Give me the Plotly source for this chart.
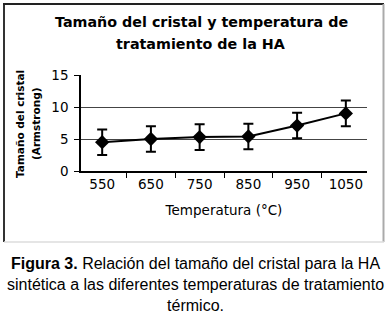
import plotly.graph_objects as go

temperaturas = ["550", "650", "750", "850", "950", "1050"]
tamano = [4.5, 5.0, 5.3, 5.4, 7.1, 9.0]
error = [2.0, 2.0, 2.0, 2.0, 2.0, 2.0]
y_ticks = [0, 5, 10, 15]

W, H = 390, 317
L, R, T, B = 81, 23, 75, 146
PW, PH = W - L - R, H - T - B

def px(x):
    return (x - L) / PW

def py(y):
    return (H - B - y) / PH

fig = go.Figure()
fig.add_trace(go.Scatter(
    x=temperaturas, y=tamano, mode="lines+markers",
    line=dict(color="black", width=2),
    marker=dict(symbol="diamond", size=11, color="black"),
    error_y=dict(type="data", array=error, visible=True, color="black", thickness=2, width=5),
    showlegend=False,
))

DV = "DejaVu Sans, Verdana, sans-serif"
fig.update_layout(
    width=W, height=H,
    margin=dict(l=L, r=R, t=T, b=B),
    paper_bgcolor="white", plot_bgcolor="white",
    font=dict(family=DV, color="black"),
    xaxis=dict(
        type="category", tickson="boundaries", ticks="outside", ticklen=5,
        tickcolor="black", showline=True, linecolor="black", linewidth=1.5,
        showgrid=False, tickfont=dict(size=13.5, family=DV),
        title=dict(text="Temperatura (°C)", font=dict(size=13.5, family=DV), standoff=15),
    ),
    yaxis=dict(
        range=[0, 15], tickvals=y_ticks, ticks="outside", ticklen=5, tickcolor="black",
        showline=True, linecolor="black", linewidth=1.5,
        showgrid=True, gridcolor="#444", gridwidth=1.2, zeroline=False,
        tickfont=dict(size=13.5, family=DV), ticklabelstandoff=3,
    ),
)

ann = [
    dict(text="<b>Tamaño del cristal y temperatura de</b>", x=px(201), y=py(22)),
    dict(text="<b>tratamiento de la HA</b>", x=px(200), y=py(44)),
]
for a in ann:
    fig.add_annotation(xref="paper", yref="paper", xanchor="center", yanchor="middle",
                       showarrow=False, font=dict(size=14.3, family=DV), **a)

fig.add_annotation(text="<b>Tamaño del cristal</b>", x=px(20), y=py(124), textangle=-90,
                   xref="paper", yref="paper", showarrow=False, xanchor="center", yanchor="middle",
                   font=dict(size=10.5, family=DV))
fig.add_annotation(text="<b>(Armstrong)</b>", x=px(36), y=py(124), textangle=-90,
                   xref="paper", yref="paper", showarrow=False, xanchor="center", yanchor="middle",
                   font=dict(size=10.5, family=DV))

fig.add_annotation(
    text="<b>Figura 3.</b> Relación del tamaño del cristal para la HA<br>sintética a las diferentes temperaturas de tratamiento<br>térmico.",
    x=px(195), y=py(284), xref="paper", yref="paper", showarrow=False,
    xanchor="center", yanchor="middle", align="center",
    font=dict(size=16, family="Liberation Sans, Arial, sans-serif", color="black"),
)

# frame
fig.add_shape(type="line", xref="paper", yref="paper", x0=px(4), x1=px(4), y0=py(4), y1=py(242),
              line=dict(color="#333", width=2))
fig.add_shape(type="line", xref="paper", yref="paper", x0=px(3), x1=px(384), y0=py(4), y1=py(4),
              line=dict(color="#222", width=2))
fig.add_shape(type="line", xref="paper", yref="paper", x0=px(383.5), x1=px(383.5), y0=py(4), y1=py(242),
              line=dict(color="#aaa", width=2))
fig.add_shape(type="line", xref="paper", yref="paper", x0=px(4), x1=px(384), y0=py(242), y1=py(242),
              line=dict(color="#ddd", width=1.5))

fig.write_html("out.html", config={"displayModeBar": False},
               post_script="document.body.style.margin='0';document.body.style.overflow='hidden';")
